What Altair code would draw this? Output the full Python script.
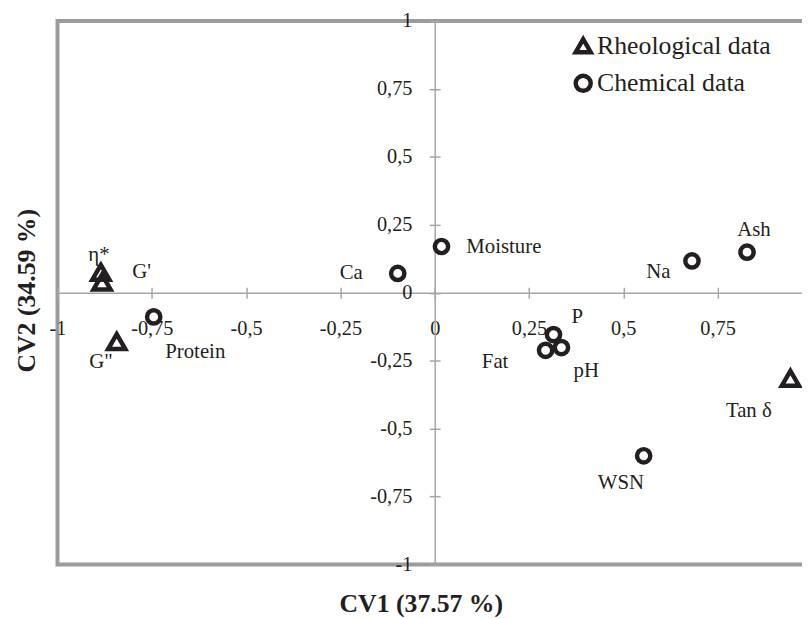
import altair as alt
import pandas as pd

# ---- data ----
names = ["η*", "G'", 'G"', "Tan δ", "Protein", "Ca", "Moisture", "P", "Fat", "pH", "Na", "Ash", "WSN"]
groups = ["Rheological data"] * 4 + ["Chemical data"] * 9
cv1 = [-0.885, -0.882, -0.843, 0.943, -0.745, -0.098, 0.018, 0.315, 0.294, 0.336, 0.682, 0.828, 0.554]
cv2 = [0.075, 0.039, -0.180, -0.315, -0.089, 0.071, 0.170, -0.154, -0.212, -0.202, 0.117, 0.149, -0.600]
x_ticks = [-1, -0.75, -0.5, -0.25, 0, 0.25, 0.5, 0.75]
y_ticks = [-1, -0.75, -0.5, -0.25, 0, 0.25, 0.5, 0.75, 1]
legend_order = ["Rheological data", "Chemical data"]

# label offsets (pixels) relative to each point
label_offsets = {
    "η*": (-2, -17), "G'": (40, -10), 'G"': (-16, 21), "Tan δ": (-42, 33),
    "Protein": (42, 36), "Ca": (-47, 0), "Moisture": (63, 1), "P": (24, -18),
    "Fat": (-51, 12), "pH": (25, 24), "Na": (-34, 11), "Ash": (7, -22), "WSN": (-23, 28),
}

df = pd.DataFrame({"name": names, "group": groups, "cv1": cv1, "cv2": cv2})

INK = "#231f20"
LINE = "#a6a6a6"
BORDER = "#9b9b9b"
FONT = "Liberation Serif"
W, H = 762, 549

xs = alt.Scale(domain=[-1, 1], nice=False, zero=False)
ys = alt.Scale(domain=[-1, 1], nice=False, zero=False)
lab = "replace(toString(datum.value), '.', ',')"

points = alt.Chart(df).mark_point(filled=False, strokeWidth=4.5, opacity=1, color=INK).encode(
    x=alt.X("cv1:Q", scale=xs, axis=alt.Axis(
        orient="bottom", offset=-H / 2, values=x_ticks, labelExpr=lab,
        labelFlush=False, labelOverlap=False, tickSize=5.5, labelPadding=20.5,
        title="CV1 (37.57 %)", titleX=367, titleY=314, titleBaseline="middle",
        titleAlign="center", titleFontSize=26, titleFontWeight="bold")),
    y=alt.Y("cv2:Q", scale=ys, axis=alt.Axis(
        orient="left", offset=-W / 2, values=y_ticks, labelExpr=lab,
        labelFlush=False, labelOverlap=False, tickSize=5.5, labelPadding=17.5,
        title="CV2 (34.59 %)", titleX=-412, titleY=272, titleAngle=270,
        titleBaseline="middle", titleAlign="center", titleFontSize=26,
        titleFontWeight="bold")),
    shape=alt.Shape("group:N", scale=alt.Scale(domain=legend_order, range=["triangle-up", "circle"]),
                    legend=alt.Legend(title=None, orient="none", legendX=518, legendY=12,
                                      padding=0, labelFontSize=26, labelFont=FONT, labelColor=INK,
                                      labelLimit=400,
                                      symbolSize=230, symbolStrokeWidth=4.5, symbolStrokeColor=INK,
                                      symbolFillColor="white", labelOffset=1, rowPadding=5)),
    size=alt.condition(alt.datum.group == "Rheological data", alt.value(300), alt.value(180)),
)

layers = [points]
for i, n in enumerate(names):
    dx, dy = label_offsets[n]
    base = alt.Chart(df).transform_filter(alt.datum.name == n).mark_text(
        dx=dx, dy=dy, font=FONT, fontSize=21, color=INK, align="center", baseline="middle")
    if i == 0:
        enc = base.encode(
            x=alt.X("cv1:Q", scale=xs, axis=alt.Axis(
                orient="top", offset=-H / 2, values=x_ticks, labels=False,
                domain=False, tickSize=5.5, title=None)),
            y=alt.Y("cv2:Q", scale=ys, axis=alt.Axis(
                orient="right", offset=-W / 2, values=y_ticks, labels=False,
                domain=False, tickSize=5.5, title=None)),
            text="name:N",
        )
    else:
        enc = base.encode(
            x=alt.X("cv1:Q", scale=xs, axis=None),
            y=alt.Y("cv2:Q", scale=ys, axis=None),
            text="name:N",
        )
    layers.append(enc)

chart = alt.layer(*layers).resolve_axis(x="independent", y="independent").properties(
    width=W, height=H,
    autosize=alt.AutoSizeParams(type="none"),
    padding={"left": 50, "top": 10, "right": -10, "bottom": 50},
).configure(
    font=FONT
).configure_view(
    stroke=BORDER, strokeWidth=4
).configure_axis(
    domainColor=LINE, domainWidth=1.5, tickColor=LINE, tickWidth=1.5,
    labelFont=FONT, labelFontSize=20.5, labelColor=INK,
    titleFont=FONT, titleColor=INK, grid=False,
).configure_legend(
    labelFont=FONT
)

chart.save("out.html", embed_options={"renderer": "svg", "actions": False})
